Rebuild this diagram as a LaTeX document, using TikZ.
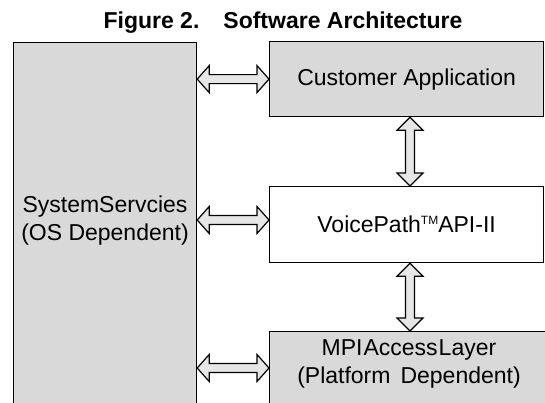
\documentclass[tikz,border=0pt]{standalone}
\usepackage{fontspec}
\setmainfont{Liberation Sans}
\usetikzlibrary{calc}
\definecolor{boxgray}{HTML}{D9D9D9}
\definecolor{arrgray}{HTML}{E6E6E6}
\newcommand\hbarrow[2]{%
  \draw[barrow] let \p1=#1, \p2=#2 in
    (\x1,\y1) -- (\x1+12pt,\y1+13.5pt) -- (\x1+12pt,\y1+4.5pt) -- (\x2-12pt,\y1+4.5pt)
    -- (\x2-12pt,\y1+13.5pt) -- (\x2,\y1) -- (\x2-12pt,\y1-13.5pt) -- (\x2-12pt,\y1-4.5pt)
    -- (\x1+12pt,\y1-4.5pt) -- (\x1+12pt,\y1-13.5pt) -- cycle;}
\newcommand\vbarrow[2]{%
  \draw[barrow] let \p1=#1, \p2=#2 in
    (\x1,\y1) -- (\x1+13pt,\y1-13pt) -- (\x1+4.5pt,\y1-13pt) -- (\x1+4.5pt,\y2+13pt)
    -- (\x1+13pt,\y2+13pt) -- (\x1,\y2) -- (\x1-13pt,\y2+13pt) -- (\x1-4.5pt,\y2+13pt)
    -- (\x1-4.5pt,\y1-13pt) -- (\x1-13pt,\y1-13pt) -- cycle;}
\begin{document}
\begin{tikzpicture}[x=1pt,y=-1pt,
  box/.style={draw, line width=1.2pt, inner sep=0pt, anchor=north west},
  barrow/.style={draw, line width=1.2pt, fill=arrgray, line join=miter},
  txt/.style={font=\fontsize{23}{28}\selectfont, align=center, inner sep=0pt}]
\useasboundingbox (0,0) rectangle (545,402);
\clip (0,0) rectangle (545,402);
\node[font=\bfseries\fontsize{23}{26}\selectfont, inner sep=0pt] (title) at (283,23) {Figure 2.\hspace{24pt}Software Architecture};
\node[box, fill=boxgray, minimum width=183pt, minimum height=380pt] (ss) at (13,42) {};
\node[txt] (sstext) at (105,221) {SystemServcies\\(OS Dependent)};
\node[box, fill=boxgray, minimum width=274pt, minimum height=75pt, txt, anchor=north west, inner sep=0pt] (ca) at (269,41) {Customer Application};
\node[box, fill=white, minimum width=274pt, minimum height=76pt, txt, anchor=north west, inner sep=0pt] (vp) at (269,186) {VoicePath\raisebox{8pt}{\fontsize{12}{12}\selectfont TM}API-II};
\node[box, fill=boxgray, minimum width=290pt, minimum height=90pt] (mpi) at (269,331) {};
\node[txt] (mpitext) at (409,364) {MPI\hspace{1pt}Access\hspace{1pt}Layer\\(Platform\hspace{10pt}Dependent)};
\coordinate (a3) at (269,368);
\coordinate (vx) at (410,0);
\hbarrow{(ss.east |- ca.west)}{(ca.west)}
\hbarrow{(ss.east |- 0,220)}{(vp.west |- 0,220)}
\hbarrow{(ss.east |- a3)}{(a3)}
\vbarrow{(ca.south -| vx)}{(vp.north -| vx)}
\vbarrow{(vp.south -| vx)}{(mpi.north -| vx)}
\end{tikzpicture}
\end{document}
